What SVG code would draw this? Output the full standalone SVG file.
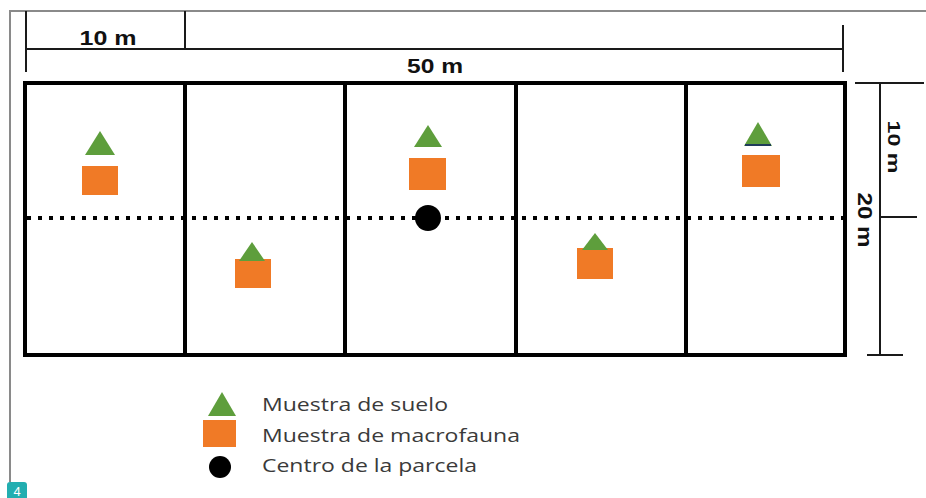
<svg xmlns="http://www.w3.org/2000/svg" width="926" height="498" viewBox="0 0 926 498">
<defs>
<style>
.frame{stroke:#8a8a8a;stroke-width:2;fill:none}
.dim{stroke:#1a1a1a;stroke-width:2;fill:none}
.plot{stroke:#000;stroke-width:4;fill:#fff}
.div{stroke:#000;stroke-width:4}
.dot{stroke:#000;stroke-width:4;stroke-dasharray:4 7;fill:none}
.tri{fill:#5e9e3c}
.sq{fill:#f07a26}
.ctr{fill:#000}
.dl{font-family:"Liberation Sans",Arial,sans-serif;font-weight:bold;fill:#111}
.lg{font-family:"Open Sans","Liberation Sans",sans-serif;font-size:19px;fill:#3a3a3a}
</style>
</defs>
<rect width="926" height="498" fill="#fff"/>
<g id="frame">
<path class="frame" d="M926 11H10V482"/>
</g>
<g id="dimensions">
<path class="dim" d="M26 11V72M185 11V49M26 49H843M843 25V72"/>
<text class="dl" x="108" y="45" font-size="21" text-anchor="middle" textLength="57" lengthAdjust="spacingAndGlyphs">10 m</text>
<text class="dl" x="435" y="73" font-size="20" text-anchor="middle" textLength="56" lengthAdjust="spacingAndGlyphs">50 m</text>
<path class="dim" d="M855 83H924M880 83V355M880 217H917M867 355H903"/>
<text class="dl" transform="translate(888,147) rotate(90)" font-size="17" text-anchor="middle" textLength="53" lengthAdjust="spacingAndGlyphs">10 m</text>
<text class="dl" transform="translate(858,220) rotate(90)" font-size="20" text-anchor="middle" textLength="55" lengthAdjust="spacingAndGlyphs">20 m</text>
</g>
<g id="plot">
<rect class="plot" x="25" y="83" width="820" height="272"/>
<path class="div" d="M185 83V355M345 83V355M516 83V355M686 83V355"/>
<path class="dot" d="M27 218H843"/>
</g>
<g id="sample1">
<polygon class="tri" points="100,131 115,155 85,155"/>
<rect class="sq" x="82" y="166" width="36" height="29"/>
</g>
<g id="sample2">
<rect class="sq" x="235" y="259" width="36" height="29"/>
<polygon class="tri" points="252,242 265,261 239,261"/>
</g>
<g id="sample3">
<polygon class="tri" points="428,125 442,147 414,147"/>
<rect class="sq" x="409" y="158" width="37" height="32"/>
<circle id="center" class="ctr" cx="428" cy="218" r="13"/>
</g>
<g id="sample4">
<rect class="sq" x="577" y="248" width="36" height="31"/>
<polygon class="tri" points="595,233 608,250 582,250"/>
</g>
<g id="sample5">
<polygon class="tri" points="758,122 772,146 744,146"/>
<path d="M745 145H771" stroke="#1f3b5a" stroke-width="2"/>
<rect class="sq" x="742" y="155" width="38" height="32"/>
</g>
<g id="legend">
<polygon class="tri" points="222,392 236,416 208,416"/>
<rect class="sq" x="203" y="420" width="33" height="27"/>
<circle class="ctr" cx="220" cy="467" r="11"/>
<text class="lg" x="262" y="411" textLength="186" lengthAdjust="spacingAndGlyphs">Muestra de suelo</text>
<text class="lg" x="262" y="442" textLength="258" lengthAdjust="spacingAndGlyphs">Muestra de macrofauna</text>
<text class="lg" x="262" y="472" textLength="215" lengthAdjust="spacingAndGlyphs">Centro de la parcela</text>
</g>
<g id="badge">
<rect x="7" y="482" width="20" height="22" rx="3" fill="#22aeb0"/>
<text x="17" y="496" font-family="Liberation Sans,Arial,sans-serif" font-size="13" fill="#fff" text-anchor="middle">4</text>
</g>
</svg>
